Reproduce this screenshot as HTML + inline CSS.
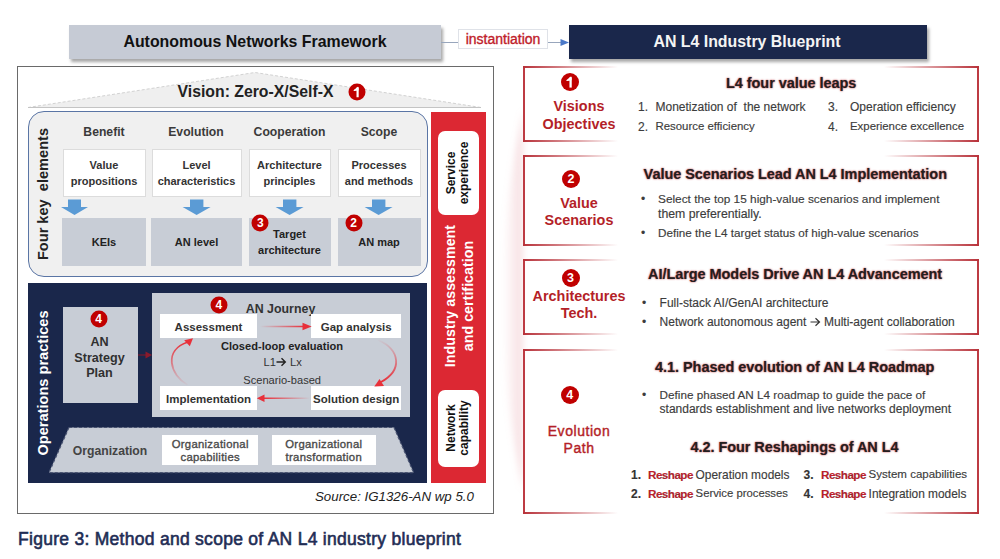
<!DOCTYPE html>
<html><head><meta charset="utf-8">
<style>
html,body{margin:0;padding:0;background:#fff;}
body{width:1000px;height:559px;position:relative;overflow:hidden;font-family:"Liberation Sans",sans-serif;}
.a{position:absolute;box-sizing:border-box;}
.c{position:absolute;transform:translate(-50%,-50%);white-space:nowrap;text-align:center;}
.v{position:absolute;transform:translate(-50%,-50%) rotate(-90deg);white-space:nowrap;text-align:center;}
.circ{position:absolute;border-radius:50%;background:#c00000;color:#fff;font-weight:bold;text-align:center;transform:translate(-50%,-50%);}
.wb{position:absolute;background:#fff;border:1px solid #dcdcdc;box-sizing:border-box;}
.gb{position:absolute;background:#c8cdd6;box-sizing:border-box;}
.arr{position:absolute;}
.rb{position:absolute;box-sizing:border-box;border-left:2px solid #bd3b43;border-right:2px solid #bd3b43;}
.rb:before,.rb:after{content:"";position:absolute;left:-2px;right:-2px;height:2px;background:linear-gradient(to right,#b8323a 0px,rgba(184,50,58,0.7) 30px,rgba(184,50,58,0) 95px,rgba(184,50,58,0) calc(100% - 95px),rgba(184,50,58,0.7) calc(100% - 30px),#b8323a 100%);}
.rb:before{top:0}
.rb:after{bottom:0}
.rt{position:absolute;color:#b41f28;font-weight:bold;font-size:14.4px;line-height:17.6px;text-align:center;transform:translate(-50%,-50%);white-space:nowrap;}
.hd{position:absolute;color:#231f20;font-weight:bold;font-size:14.4px;white-space:nowrap;text-shadow:0 0 2px rgba(185,25,35,0.75),0 0 1px rgba(185,25,35,0.5);}
.tx{position:absolute;color:#3c3c3c;font-size:12px;white-space:nowrap;-webkit-text-stroke:0.15px #3c3c3c;}
.rs{font-size:11.7px;}
</style></head><body>

<!-- top headers -->
<div class="a" style="left:69px;top:25px;width:372px;height:34px;background:#c6cbd5;box-shadow:2px 3px 3px rgba(0,0,0,0.35);"></div>
<div class="c" style="left:255px;top:42px;font-weight:bold;font-size:15.9px;color:#111;">Autonomous Networks Framework</div>

<div class="a" style="left:441px;top:42px;width:17px;height:1px;background:#98a6bc;"></div>
<div class="a" style="left:458px;top:28.5px;width:90px;height:20px;background:#fff;border:1px solid #dfe2e8;"></div>
<div class="c" style="left:503px;top:38.5px;font-size:14px;color:#c0202a;-webkit-text-stroke:0.35px #c0202a;">instantiation</div>
<div class="a" style="left:548px;top:42px;width:13px;height:1px;background:#98a6bc;"></div>
<svg class="a" style="left:559px;top:37px;" width="11" height="11"><path d="M1.5,2 L10,5.5 L1.5,9 Z" fill="#4a78c8"/></svg>

<div class="a" style="left:569px;top:25px;width:358px;height:34px;background:#1a274b;box-shadow:2px 3px 3px rgba(0,0,0,0.35);"></div>
<div class="c" style="left:747px;top:42px;font-weight:bold;font-size:15.9px;color:#f4f4f4;">AN L4 Industry Blueprint</div>

<!-- outer box -->
<div class="a" style="left:17px;top:66px;width:477px;height:448px;border:1.5px solid #6a6a6a;background:#fff;"></div>

<!-- roof -->
<svg class="a" style="left:0;top:0;" width="500" height="120">
  <polygon points="28,107.5 255,72.5 481,107.5" fill="#efefef"/>
  <polyline points="28,107.5 255,72.5 481,107.5" fill="none" stroke="#d2d2d2" stroke-width="1" stroke-dasharray="3,2"/>
  <line x1="28" y1="107.5" x2="481" y2="107.5" stroke="#c4c4c4" stroke-width="1.2"/>
</svg>
<div class="c" style="left:255.5px;top:92px;font-weight:bold;font-size:15.8px;color:#222;">Vision: Zero-X/Self-X</div>
<div class="circ" style="left:356.7px;top:92px;width:17px;height:17px;"><svg width="17" height="17" style="display:block"><path d="M9.1,4.0 V13.8" stroke="#fff" stroke-width="2.2" fill="none"/><path d="M5.7,7.0 L9.4,3.9 L9.4,6.4 Z" fill="#fff" stroke="#fff" stroke-width="1.2" stroke-linejoin="round"/></svg></div>

<!-- four key elements -->
<div class="a" style="left:27.5px;top:110.5px;width:400.5px;height:166px;border:1.8px solid #5a75a5;border-radius:16px;background:#f0f0f0;"></div>
<div class="v" style="left:43px;top:194px;font-weight:bold;font-size:14.6px;color:#222;">Four key&nbsp;&nbsp;elements</div>

<div class="c" style="left:104px;top:132px;font-weight:bold;font-size:12.2px;color:#3a3a3a;">Benefit</div>
<div class="c" style="left:196px;top:132px;font-weight:bold;font-size:12.2px;color:#3a3a3a;">Evolution</div>
<div class="c" style="left:289.5px;top:132px;font-weight:bold;font-size:12.2px;color:#3a3a3a;">Cooperation</div>
<div class="c" style="left:379px;top:132px;font-weight:bold;font-size:12.2px;color:#3a3a3a;">Scope</div>

<div class="wb" style="left:62.5px;top:148.5px;width:83px;height:48px;"></div>
<div class="wb" style="left:151.5px;top:148.5px;width:90.5px;height:48px;"></div>
<div class="wb" style="left:248.5px;top:148.5px;width:82px;height:48px;"></div>
<div class="wb" style="left:338px;top:148.5px;width:82.5px;height:48px;"></div>
<div class="c" style="left:104px;top:173px;font-weight:bold;font-size:11px;line-height:15.5px;color:#333;">Value<br>propositions</div>
<div class="c" style="left:196.5px;top:173px;font-weight:bold;font-size:11px;line-height:15.5px;color:#333;">Level<br>characteristics</div>
<div class="c" style="left:289.5px;top:173px;font-weight:bold;font-size:11px;line-height:15.5px;color:#333;">Architecture<br>principles</div>
<div class="c" style="left:379px;top:173px;font-weight:bold;font-size:11px;line-height:15.5px;color:#333;">Processes<br>and methods</div>

<svg class="a" style="left:0;top:195px;" width="430" height="25">
  <g fill="#5b9bd5">
    <path d="M68,4.4 H81 V12 H88 L74.5,20 L61,12 H68 Z"/>
    <path d="M190,4.4 H203.4 V12 H210.6 L196.6,20 L182.6,12 H190 Z"/>
    <path d="M283,4.4 H296.4 V12 H303.6 L289.6,20 L275.6,12 H283 Z"/>
    <path d="M372,4.4 H385.4 V12 H392.6 L378.6,20 L364.6,12 H372 Z"/>
  </g>
</svg>

<div class="gb" style="left:62px;top:217.5px;width:84px;height:48.5px;"></div>
<div class="gb" style="left:151px;top:217.5px;width:91px;height:48.5px;"></div>
<div class="gb" style="left:248.5px;top:217.5px;width:82px;height:48.5px;"></div>
<div class="gb" style="left:338px;top:217.5px;width:82.5px;height:48.5px;"></div>
<div class="c" style="left:104px;top:242px;font-weight:bold;font-size:11px;color:#222;">KEIs</div>
<div class="c" style="left:196.5px;top:242px;font-weight:bold;font-size:11px;color:#222;">AN level</div>
<div class="c" style="left:289.5px;top:242px;font-weight:bold;font-size:11px;line-height:15.5px;color:#222;">Target<br>architecture</div>
<div class="c" style="left:379px;top:242px;font-weight:bold;font-size:11px;color:#222;">AN map</div>
<div class="circ" style="left:260.3px;top:222.5px;width:17px;height:17px;font-size:12px;line-height:17px;">3</div>
<div class="circ" style="left:353.5px;top:222.5px;width:17px;height:17px;font-size:12px;line-height:17px;">2</div>

<!-- red bar -->
<div class="a" style="left:431px;top:111.5px;width:55px;height:371px;background:#dc2833;"></div>
<div class="a" style="left:437.5px;top:130.5px;width:41.5px;height:84px;background:#fff;border-radius:7px;"></div>
<div class="v" style="left:458px;top:172.5px;font-weight:bold;font-size:12px;line-height:13px;color:#111;">Service<br>experience</div>
<div class="v" style="left:459px;top:296px;font-weight:bold;font-size:14.3px;line-height:18px;color:#fff;">Industry assessment<br>and certification</div>
<div class="a" style="left:437.5px;top:389.5px;width:41.5px;height:77px;background:#fff;border-radius:7px;"></div>
<div class="v" style="left:458px;top:428px;font-weight:bold;font-size:12px;line-height:13px;color:#111;">Network<br>capability</div>

<!-- operations practices -->
<div class="a" style="left:28px;top:283px;width:399px;height:199.5px;background:#1a274b;"></div>
<div class="v" style="left:42.5px;top:383px;font-weight:bold;font-size:14.6px;color:#fff;">Operations practices</div>

<div class="gb" style="left:62.5px;top:307px;width:75.5px;height:96px;"></div>
<div class="circ" style="left:98.7px;top:319.3px;width:17px;height:17px;font-size:12px;line-height:17px;">4</div>
<div class="c" style="left:99.5px;top:358px;font-weight:bold;font-size:12.6px;line-height:15.6px;color:#303030;">AN<br>Strategy<br>Plan</div>
<svg class="a" style="left:138px;top:349px;" width="14" height="12"><path d="M0,6 H9" stroke="#7a1a2e" stroke-width="1.2"/><path d="M7.5,2.5 L14,6 L7.5,9.5 Z" fill="#8a1a2c"/></svg>

<div class="gb" style="left:151.5px;top:293px;width:258px;height:124px;"></div>
<div class="circ" style="left:218.9px;top:304.5px;width:17px;height:17px;font-size:12px;line-height:17px;">4</div>
<div class="c" style="left:280.5px;top:309px;font-weight:bold;font-size:12.4px;color:#333;">AN Journey</div>
<div class="a" style="left:160.3px;top:314.2px;width:96.3px;height:24px;background:#fff;"></div>
<div class="a" style="left:311.4px;top:314.2px;width:89.6px;height:24px;background:#fff;"></div>
<div class="a" style="left:160.3px;top:386.2px;width:96.3px;height:24.3px;background:#fff;"></div>
<div class="a" style="left:311.4px;top:386.2px;width:89.6px;height:24.3px;background:#fff;"></div>
<div class="c" style="left:208.5px;top:326.5px;font-weight:bold;font-size:11.5px;color:#333;">Assessment</div>
<div class="c" style="left:356.2px;top:326.5px;font-weight:bold;font-size:11.5px;color:#333;">Gap analysis</div>
<div class="c" style="left:208.5px;top:398.5px;font-weight:bold;font-size:11.5px;color:#333;">Implementation</div>
<div class="c" style="left:356.2px;top:398.5px;font-weight:bold;font-size:11.5px;color:#333;">Solution design</div>
<div class="c" style="left:282px;top:345.7px;font-weight:bold;font-size:11.1px;color:#222;">Closed-loop evaluation</div>
<div class="a" style="left:263.5px;top:356px;font-size:11.2px;color:#333;white-space:nowrap;">L1</div><svg class="a" style="left:276px;top:357px;" width="11" height="10"><path d="M0.5,5 H9 M5.5,1.2 L9.3,5 L5.5,8.8" stroke="#222" stroke-width="1.4" fill="none"/></svg><div class="a" style="left:290px;top:356px;font-size:11.2px;color:#333;white-space:nowrap;">Lx</div>
<div class="c" style="left:282.2px;top:379.5px;font-size:11.1px;color:#333;">Scenario-based</div>

<svg class="a" style="left:0;top:0;" width="430" height="430">
  <defs>
    <linearGradient id="g1" gradientUnits="userSpaceOnUse" x1="260" x2="305" y1="0" y2="0"><stop offset="0" stop-color="#e8303a" stop-opacity="0"/><stop offset="1" stop-color="#e8303a"/></linearGradient>
    <linearGradient id="g2" gradientUnits="userSpaceOnUse" x1="310" x2="264" y1="0" y2="0"><stop offset="0" stop-color="#e8303a" stop-opacity="0"/><stop offset="1" stop-color="#e8303a"/></linearGradient>
    <linearGradient id="g3" gradientUnits="userSpaceOnUse" x1="0" x2="0" y1="386" y2="342"><stop offset="0" stop-color="#e8303a" stop-opacity="0"/><stop offset="1" stop-color="#e8303a"/></linearGradient>
    <linearGradient id="g4" gradientUnits="userSpaceOnUse" x1="0" x2="0" y1="339" y2="382"><stop offset="0" stop-color="#e8303a" stop-opacity="0"/><stop offset="1" stop-color="#e8303a"/></linearGradient>
  </defs>
  <path d="M260,326.5 H304" stroke="url(#g1)" stroke-width="1.6" fill="none"/>
  <path d="M302.5,322.8 L311.7,326.5 L302.5,330.2 Z" fill="#e8303a"/>
  <path d="M310,398.2 H263" stroke="url(#g2)" stroke-width="1.6" fill="none"/>
  <path d="M264.5,394.5 L256.8,398.2 L264.5,401.9 Z" fill="#e8303a"/>
  <path d="M187.5,385 C170,375 163,350 188,342" stroke="url(#g3)" stroke-width="1.8" fill="none"/>
  <path d="M193,338.3 L184.2,340.2 L189.8,346.2 Z" fill="#e8303a"/>
  <path d="M378.5,340 C400,350 403,370 381,382" stroke="url(#g4)" stroke-width="1.8" fill="none"/>
  <path d="M374.3,386.5 L379.5,379 L384,386 Z" fill="#e8303a"/>
</svg>

<!-- organization trapezoid -->
<svg class="a" style="left:0;top:0;" width="430" height="490">
  <polygon points="69,427.5 394,427.5 413.6,472.6 49,472.6" fill="#c8cdd6" stroke="#4a5472" stroke-width="1.2" stroke-dasharray="3,2"/>
</svg>
<div class="c" style="left:110px;top:451px;font-weight:bold;font-size:12.2px;color:#444;">Organization</div>
<div class="a" style="left:162px;top:434.6px;width:96.4px;height:30.4px;background:#fff;"></div>
<div class="a" style="left:272px;top:434.6px;width:103.6px;height:30.4px;background:#fff;"></div>
<div class="c" style="left:210.2px;top:451px;font-size:11.3px;line-height:13px;letter-spacing:0.3px;color:#4a4a4a;-webkit-text-stroke:0.35px #4a4a4a;">Organizational<br>capabilities</div>
<div class="c" style="left:323.8px;top:451px;font-size:11.3px;line-height:13px;letter-spacing:0.3px;color:#4a4a4a;-webkit-text-stroke:0.35px #4a4a4a;">Organizational<br>transformation</div>

<div class="a" style="left:315px;top:489px;font-style:italic;font-size:13.3px;color:#222;white-space:nowrap;">Source: IG1326-AN wp 5.0</div>

<!-- caption -->
<div class="a" style="left:18px;top:528.5px;font-weight:normal;font-size:17.5px;letter-spacing:0.28px;color:#1f2d55;-webkit-text-stroke:0.6px #1f2d55;white-space:nowrap;">Figure 3: Method and scope of AN L4 industry blueprint</div>

<!-- right side boxes -->
<svg class="a" style="left:470px;top:60px;" width="60" height="480"><defs><filter id="bl" x="-50%" y="-10%" width="200%" height="120%"><feGaussianBlur stdDeviation="3"/></filter><linearGradient id="pk" x1="0" x2="1" y1="0" y2="0"><stop offset="0" stop-color="#e8a0a8" stop-opacity="0"/><stop offset="1" stop-color="#e8a0a8" stop-opacity="0.35"/></linearGradient></defs><path d="M53,50 Q12,240 53,430 Z" fill="url(#pk)" filter="url(#bl)"/></svg>

<div class="rb" style="left:523px;top:66px;width:456px;height:76px;background:#fff;"></div>
<div class="rb" style="left:523px;top:155px;width:456px;height:90.5px;background:#fff;"></div>
<div class="rb" style="left:523px;top:259px;width:456px;height:75.5px;background:#fff;"></div>
<div class="rb" style="left:523px;top:348.5px;width:456px;height:165px;background:#fff;"></div>

<div class="circ" style="left:570.4px;top:81.6px;width:18px;height:18px;"><svg width="18" height="18" style="display:block"><path d="M9.6,4.3 V14.6" stroke="#fff" stroke-width="2.3" fill="none"/><path d="M6,7.4 L9.9,4.2 L9.9,6.8 Z" fill="#fff" stroke="#fff" stroke-width="1.3" stroke-linejoin="round"/></svg></div>
<div class="rt" style="left:579px;top:116px;">Visions<br>Objectives</div>
<div class="circ" style="left:570.9px;top:179px;width:18px;height:18px;font-size:12.5px;line-height:18px;">2</div>
<div class="rt" style="left:579px;top:212.5px;">Value<br>Scenarios</div>
<div class="circ" style="left:570.6px;top:278px;width:18px;height:18px;font-size:12.5px;line-height:18px;">3</div>
<div class="rt" style="left:579px;top:305.5px;">Architectures<br>Tech.</div>
<div class="circ" style="left:569.7px;top:395px;width:18px;height:18px;font-size:12.5px;line-height:18px;">4</div>
<div class="rt" style="left:579px;top:439.5px;font-weight:normal;font-size:14px;line-height:17px;letter-spacing:0.55px;-webkit-text-stroke:0.4px #b41f28;">Evolution<br>Path</div>

<div class="hd" style="left:726px;top:74.5px;">L4 four value leaps</div>
<div class="tx" style="left:638px;top:100px;">1.</div><div class="tx" style="left:655.5px;top:100px;">Monetization of&nbsp; the network</div>
<div class="tx" style="left:638px;top:119.5px;">2.</div><div class="tx" style="left:655.5px;top:119.5px;font-size:11.4px;">Resource efficiency</div>
<div class="tx" style="left:828px;top:100px;">3.</div><div class="tx" style="left:850px;top:100px;">Operation efficiency</div>
<div class="tx" style="left:828px;top:119.5px;">4.</div><div class="tx" style="left:850px;top:119.5px;font-size:11.4px;">Experience excellence</div>

<div class="hd" style="left:643.6px;top:166px;">Value Scenarios Lead AN L4 Implementation</div>
<div class="tx" style="left:641px;top:192px;">•</div><div class="tx" style="left:658px;top:192px;font-size:11.83px;">Select the top 15 high-value scenarios and implement</div>
<div class="tx" style="left:658px;top:206.5px;font-size:12.3px;">them preferentially.</div>
<div class="tx" style="left:641px;top:226px;">•</div><div class="tx" style="left:658px;top:226px;font-size:11.7px;">Define the L4 target status of high-value scenarios</div>

<div class="hd" style="left:648px;top:266px;">AI/Large Models Drive AN L4 Advancement</div>
<div class="tx" style="left:642px;top:295.5px;">•</div><div class="tx" style="left:659.6px;top:295.5px;">Full-stack AI/GenAI architecture</div>
<div class="tx" style="left:642px;top:315px;">•</div><div class="tx" style="left:659.6px;top:315px;">Network autonomous agent <svg width="11" height="10" style="vertical-align:-1px"><path d="M0.5,5 H9.5 M5.5,1.2 L9.5,5 L5.5,8.8" stroke="#333" stroke-width="1.2" fill="none"/></svg> Multi-agent collaboration</div>

<div class="hd" style="left:655px;top:358.5px;">4.1. Phased evolution of AN L4 Roadmap</div>
<div class="tx" style="left:642px;top:387.5px;">•</div><div class="tx" style="left:659.6px;top:387.5px;font-size:11.7px;">Define phased AN L4 roadmap to guide the pace of</div>
<div class="tx" style="left:659.6px;top:402px;">standards establishment and live networks deployment</div>

<div class="hd" style="left:690.4px;top:439px;">4.2. Four Reshapings of AN L4</div>
<div class="tx" style="left:631px;top:467.5px;font-weight:bold;color:#333;">1.</div><div class="tx" style="left:648px;top:467.5px;color:#c0202a;font-weight:bold;font-size:11.7px;letter-spacing:-0.55px;">Reshape</div><div class="tx" style="left:695.6px;top:467.5px;font-size:11.9px;">Operation models</div>
<div class="tx" style="left:631px;top:487px;font-weight:bold;color:#333;">2.</div><div class="tx" style="left:648px;top:487px;color:#c0202a;font-weight:bold;font-size:11.7px;letter-spacing:-0.55px;">Reshape</div><div class="tx" style="left:695.6px;top:487px;font-size:11.3px;">Service processes</div>
<div class="tx" style="left:803.6px;top:467.5px;font-weight:bold;color:#333;">3.</div><div class="tx" style="left:821px;top:467.5px;color:#c0202a;font-weight:bold;font-size:11.7px;letter-spacing:-0.55px;">Reshape</div><div class="tx" style="left:868.6px;top:467.5px;font-size:11.5px;">System capabilities</div>
<div class="tx" style="left:803.6px;top:487px;font-weight:bold;color:#333;">4.</div><div class="tx" style="left:821px;top:487px;color:#c0202a;font-weight:bold;font-size:11.7px;letter-spacing:-0.55px;">Reshape</div><div class="tx" style="left:868.6px;top:487px;font-size:11.9px;">Integration models</div>

</body></html>
